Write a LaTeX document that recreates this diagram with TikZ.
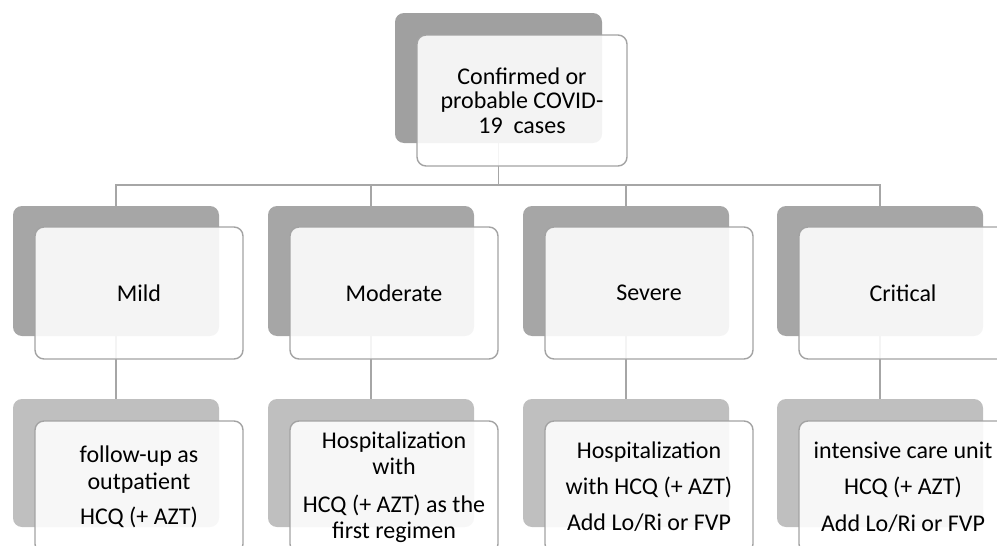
\documentclass[tikz,border=0pt]{standalone}
\usepackage{fontspec}
\setmainfont{Carlito}
\definecolor{topdark}{HTML}{A0A0A0}
\definecolor{middark}{HTML}{A6A6A6}
\definecolor{botdark}{HTML}{BFBFBF}
\definecolor{edgegray}{HTML}{A3A3A3}
\definecolor{conngray}{HTML}{A6A6A6}
\begin{document}
\begin{tikzpicture}[x=1pt,y=-1pt,
  backbox/.style={rounded corners=9pt, minimum width=206pt, minimum height=130pt,
    anchor=north west, inner sep=0pt, outer sep=0pt, draw=none},
  frontbox/.style={rounded corners=9pt, minimum width=208pt, minimum height=132pt,
    anchor=north west, inner sep=0pt, outer sep=0pt, fill=white, fill opacity=0.88,
    text opacity=1, draw=edgegray, line width=1.4pt, align=center,
    font=\fontsize{24}{26.5}\selectfont},
  conn/.style={draw=conngray, line width=1.8pt}]
\useasboundingbox (0,0) rectangle (997,546);
\clip (0,0) rectangle (997,546);
% back boxes
\node[backbox, fill=topdark, minimum width=207pt] (d0) at (395,13) {};
\node[backbox, fill=middark] (d1) at (13,206) {};
\node[backbox, fill=middark] (d2) at (268,206) {};
\node[backbox, fill=middark] (d3) at (523,206) {};
\node[backbox, fill=middark] (d4) at (777,206) {};
\node[backbox, fill=botdark, minimum height=128pt] (b1) at (13,399) {};
\node[backbox, fill=botdark, minimum height=128pt] (b2) at (268,399) {};
\node[backbox, fill=botdark, minimum height=128pt] (b3) at (523,399) {};
\node[backbox, fill=botdark, minimum height=128pt] (b4) at (777,399) {};
% connectors
\coordinate (bus) at (498,185);
\foreach \c in {d1,d2,d3,d4}{
  \draw[conn] (d0.south) -- (d0.south |- bus) -| (\c.north);
}
\draw[conn] (d1.south) -- (b1.north);
\draw[conn] (d2.south) -- (b2.north);
\draw[conn] (d3.south) -- (b3.north);
\draw[conn] (d4.south) -- (b4.north);
% front boxes
\node[frontbox, minimum width=210pt, minimum height=131pt, font=\fontsize{24}{24.5}\selectfont] (w0) at (417,35)
  {Confirmed or\\probable COVID-\\19~ cases};
\node[frontbox] (w1) at (35,227) {Mild};
\node[frontbox] (w2) at (290,227) {Moderate};
\node[frontbox] (w3) at (545,227) {Severe};
\node[frontbox] (w4) at (799,227) {Critical};
\node[frontbox] (v1) at (35,421) {follow-up as\\outpatient\\[9pt]HCQ (+ AZT)};
\node[frontbox] (v2) at (290,421) {Hospitalization\\with\\[11pt]HCQ (+ AZT) as the\\first regimen};
\node[frontbox] (v3) at (545,421) {Hospitalization\\[9.5pt]with HCQ (+ AZT)\\[9.5pt]Add Lo/Ri or FVP};
\node[frontbox] (v4) at (799,421) {intensive care unit\\[10pt]HCQ (+ AZT)\\[9.5pt]Add Lo/Ri or FVP};
\end{tikzpicture}
\end{document}
